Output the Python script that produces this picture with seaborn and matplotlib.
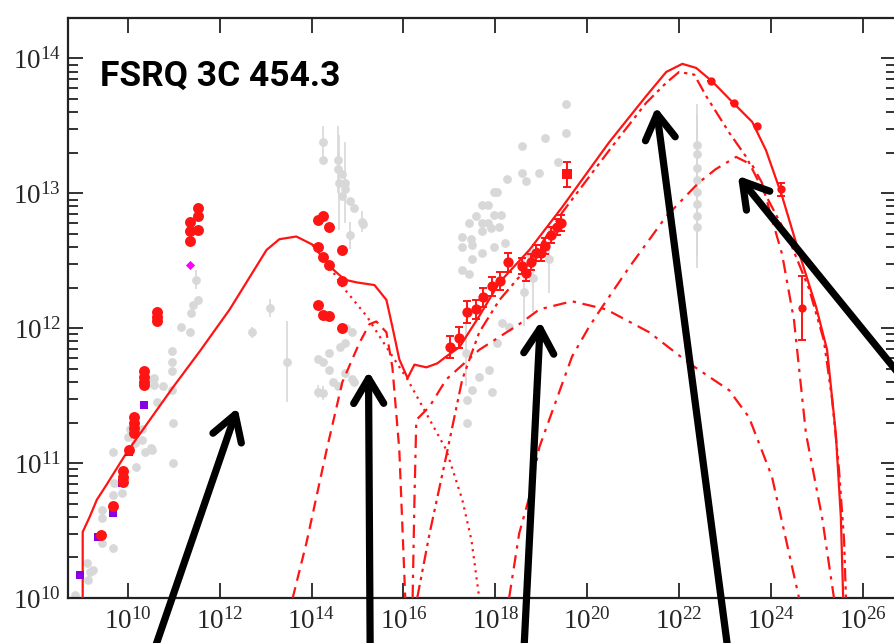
import numpy as np
import matplotlib
matplotlib.use("Agg")
import matplotlib.pyplot as plt
import seaborn as sns
from matplotlib.ticker import LogLocator, NullLocator, FixedLocator, LogFormatterSciNotation, NullFormatter

# ------------------------------------------------------------------
# Model components: log10(nu / Hz) and log10(nu F_nu)
# ------------------------------------------------------------------
total_lx = [9.02, 9.02, 9.17, 9.33, 9.54, 9.98, 10.48, 10.98, 11.57, 12.22, 13.02, 13.30, 13.67,
            14.02, 14.39, 14.72, 14.98, 15.37, 15.63, 15.76, 15.91, 16.09, 16.24, 16.50, 16.74,
            16.93, 17.22, 17.65, 18.09, 18.74, 19.46, 20.48, 21.28, 21.72, 22.07, 22.37, 22.72,
            23.15, 23.59, 23.89, 24.24, 24.61, 24.98, 25.22, 25.41, 25.52, 25.57]
total_ly = [10.00, 10.49, 10.60, 10.73, 10.84, 11.08, 11.32, 11.56, 11.83, 12.14, 12.58, 12.66, 12.68,
            12.62, 12.46, 12.36, 12.34, 12.32, 12.21, 12.01, 11.77, 11.63, 11.73, 11.71, 11.74,
            11.79, 11.86, 12.09, 12.34, 12.58, 12.90, 13.38, 13.72, 13.90, 13.96, 13.93, 13.83,
            13.68, 13.53, 13.32, 12.98, 12.56, 12.16, 11.84, 11.22, 10.60, 10.00]

sync_lx = [14.02, 14.39, 14.67, 15.20, 15.63, 16.09, 16.93, 17.28, 17.48, 17.65]
sync_ly = [12.62, 12.46, 12.31, 12.09, 11.86, 11.62, 11.10, 10.73, 10.43, 10.00]

disk_lx = [13.59, 13.89, 14.33, 14.67, 15.04, 15.26, 15.41, 15.63, 15.76, 15.91, 16.04]
disk_ly = [10.00, 10.41, 11.10, 11.60, 11.89, 12.03, 12.05, 11.97, 11.71, 11.10, 10.00]

ssc_lx = [16.20, 16.24, 16.28, 16.57, 16.93, 17.65, 18.52, 18.96, 19.67, 20.41, 21.35, 22.22,
          23.09, 23.52, 24.02, 24.61]
ssc_ly = [10.00, 10.73, 11.32, 11.42, 11.62, 11.84, 12.03, 12.14, 12.20, 12.14, 11.97, 11.74,
          11.54, 11.34, 10.90, 10.00]

blr_lx = [16.30, 16.57, 16.93, 17.28, 17.65, 18.09, 18.52, 19.46, 20.48, 21.28, 21.72, 22.00,
          22.33, 22.59, 23.09, 23.46, 23.74, 24.39, 24.83, 25.15, 25.33, 25.48, 25.59, 25.63]
blr_ly = [10.00, 10.48, 11.05, 11.62, 11.97, 12.21, 12.38, 12.86, 13.32, 13.67, 13.82, 13.90,
          13.88, 13.72, 13.45, 13.27, 13.08, 12.66, 12.29, 11.91, 11.47, 10.95, 10.43, 10.00]

ecd_lx = [18.30, 18.52, 18.74, 18.96, 19.33, 19.67, 20.04, 20.33, 20.91, 21.72, 22.43, 22.80,
          23.24, 23.59, 23.80, 24.02, 24.24, 24.50, 24.76, 25.11, 25.37]
ecd_ly = [10.00, 10.48, 10.75, 11.12, 11.47, 11.79, 12.01, 12.16, 12.45, 12.83, 13.08, 13.18,
          13.27, 13.21, 13.08, 12.81, 12.55, 12.06, 11.22, 10.60, 10.00]

# ------------------------------------------------------------------
# Observations
# ------------------------------------------------------------------
radio_lx = [9.41, 9.67, 9.89, 9.89, 9.89, 10.02, 10.13, 10.13, 10.13, 10.13, 10.35, 10.35, 10.35,
            10.35, 10.63, 10.63, 10.63, 11.35, 11.35, 11.35, 11.52, 11.52, 11.52]
radio_ly = [10.47, 10.68, 10.94, 10.90, 10.86, 11.10, 11.34, 11.30, 11.26, 11.22, 11.68, 11.64, 11.60,
            11.58, 12.12, 12.08, 12.05, 12.79, 12.72, 12.65, 12.89, 12.83, 12.73]

opt_lx = [14.13, 14.26, 14.37, 14.13, 14.26, 14.37, 14.67, 14.67, 14.13, 14.26, 14.39, 14.67]
opt_ly = [12.80, 12.83, 12.75, 12.60, 12.53, 12.47, 12.58, 12.35, 12.17, 12.10, 12.09, 12.00]

xray_lx = [17.02, 17.20, 17.39, 17.57, 17.74, 17.93, 18.11, 18.28, 18.59, 18.67, 18.78, 18.89,
           19.00, 19.09, 19.22, 19.35, 19.43]
xray_ly = [11.86, 11.93, 12.12, 12.14, 12.23, 12.31, 12.35, 12.49, 12.46, 12.41, 12.49, 12.56,
           12.56, 12.61, 12.69, 12.75, 12.78]
xray_err = [0.08, 0.08, 0.08, 0.07, 0.07, 0.07, 0.07, 0.07, 0.06, 0.06, 0.06, 0.06,
            0.06, 0.06, 0.06, 0.06, 0.06]

hard_lx = [19.57]
hard_ly = [13.14]
hard_err = [0.09]

gam_lx = [22.70, 23.20, 23.70, 24.22, 24.67]
gam_ly = [13.83, 13.67, 13.50, 13.03, 12.15]
gam_err = [0.0, 0.0, 0.0, 0.05, 0.24]

arch_lx = [8.85, 9.11, 9.17, 9.24, 9.13, 9.43, 9.43, 9.43, 9.67, 9.67, 9.70, 9.67, 9.87, 10.00,
           10.04, 10.17, 10.15, 10.30, 10.30, 10.50, 10.57, 10.57, 10.63, 10.76, 10.96, 10.98,
           10.98, 10.96, 10.96, 10.96, 11.17, 11.35, 11.37, 11.41, 11.54, 11.48, 10.54, 10.33,
           10.37, 10.52,
           12.70, 13.09, 13.46,
           14.26, 14.26, 14.57, 14.57, 14.67, 14.59, 14.72, 14.72, 14.67, 14.83, 14.93, 15.09,
           15.11, 14.83,
           14.76, 14.87, 14.61, 14.72, 14.39, 14.13, 14.24, 14.37, 14.46, 14.57, 14.72, 14.87,
           14.93, 14.13, 14.24,
           19.54, 19.54, 19.09, 18.57, 18.26, 18.57, 18.96, 18.67, 19.37, 17.98, 18.04, 17.72,
           17.83, 17.59, 17.43, 17.70, 17.83, 17.98, 18.13, 17.28, 17.48, 17.72, 17.91, 18.09,
           17.28, 17.50, 17.72, 17.98, 18.20, 17.50, 17.28, 17.43, 18.74,
           18.15, 18.30, 18.04, 17.87, 17.65, 17.50, 17.39, 17.93, 17.39, 17.37, 18.63, 18.83,
           19.17,
           22.39, 22.39, 22.39, 22.39, 22.39, 22.39, 22.39, 22.39]
arch_ly = [10.02, 10.26, 10.19, 10.21, 10.13, 10.65, 10.59, 10.41, 10.37, 10.76, 10.85, 11.08, 10.78, 11.19,
           11.25, 10.97, 11.15, 11.17, 11.25, 11.11, 11.63, 11.58, 11.45, 11.57, 11.54, 11.30,
           11.00, 11.68, 11.75, 11.83, 12.01, 11.97, 12.11, 12.17, 12.21, 12.36, 11.62, 11.60,
           11.08, 11.10,
           11.97, 12.15, 11.75,
           13.38, 13.25, 13.25, 13.18, 13.14, 13.08, 13.08, 13.03, 12.98, 12.94, 12.89, 12.79,
           12.77, 12.69,
           12.00, 11.97, 11.86, 11.89, 11.82, 11.77, 11.75, 11.69, 11.60, 11.57, 11.67, 11.62,
           11.60, 11.53, 11.52,
           13.66, 13.45, 13.41, 13.35, 13.11, 13.15, 13.15, 13.09, 13.23, 13.01, 13.01, 12.91,
           12.91, 12.83, 12.78, 12.78, 12.78, 12.84, 12.84, 12.68, 12.66, 12.72, 12.74, 12.75,
           12.60, 12.62, 12.56, 12.60, 12.63, 12.51, 12.43, 12.40, 12.55,
           12.04, 12.01, 11.89, 11.69, 11.64, 11.54, 11.47, 11.53, 11.30, 11.82, 12.27, 12.37,
           12.51,
           13.36, 13.29, 13.19, 13.10, 13.01, 12.92, 12.83, 12.75]
arch_err = [0.0] * 35 + [0.07, 0.0, 0.0, 0.0, 0.0] + \
           [0.04, 0.07, 0.30] + \
           [0.12, 0.0, 0.25, 0.0, 0.0, 0.35, 0.30, 0.0, 0.0, 0.0, 0.0, 0.08, 0.0, 0.10] + \
           [0.0] * 13 + [0.05, 0.05] + \
           [0.0] * 33 + \
           [0.0] * 8 + [0.0, 0.25, 0.25, 0.25, 0.25] + \
           [0.30] * 8

uv_lx = [8.96, 9.35, 9.67, 9.87, 10.02, 10.35]
uv_ly = [10.17, 10.45, 10.63, 10.85, 11.08, 11.43]

ir_lx = [11.35, 11.35]
ir_ly = [12.47, 12.71]

# Annotation arrows: (tip, tail) in log10 coordinates
arrow_tips = [(12.39, 11.41), (15.24, 11.68), (18.98, 12.05), (21.50, 13.64), (23.28, 13.13)]
arrow_tails = [(10.35, 9.39), (15.28, 9.39), (18.59, 9.39), (23.15, 9.39), (27.43, 11.39)]

# ------------------------------------------------------------------
sns.set_style("ticks")
plt.rcParams["font.family"] = ["Liberation Serif", "DejaVu Serif"]
plt.rcParams["mathtext.fontset"] = "stix"

RED = "#ff1414"
GREY = "#d8d8d8"


def p(v):
    return 10 ** np.asarray(v, dtype=float)


fig = plt.figure(figsize=(8.94, 6.43), dpi=100)
ax = fig.add_axes([68 / 894, 45 / 643, 828 / 894, 580 / 643])
ax.set_xscale("log")
ax.set_yscale("log")

# archival data (grey)
ae = np.asarray(arch_err)
ay = p(arch_ly)
m = ae > 0
ax.errorbar(p(arch_lx)[m], ay[m], yerr=[ay[m] * (1 - 10 ** -ae[m]), ay[m] * (10 ** ae[m] - 1)],
            fmt="none", ecolor=GREY, elinewidth=1.2, capsize=0, zorder=1)
sns.scatterplot(x=p(arch_lx), y=ay, ax=ax, color=GREY, s=40, linewidth=0, zorder=2)

# model curves
styles = [
    (total_lx, total_ly, "-"),
    (sync_lx, sync_ly, (0, (1, 2.2))),
    (disk_lx, disk_ly, (0, (5, 3))),
    (ssc_lx, ssc_ly, (0, (6, 3, 1.5, 3))),
    (blr_lx, blr_ly, (0, (6, 2.2, 1.5, 2.2, 1.5, 2.2))),
    (ecd_lx, ecd_ly, (0, (6, 3, 1.5, 3))),
]
for lx, ly, ls in styles:
    sns.lineplot(x=p(lx), y=p(ly), ax=ax, color=RED, linewidth=1.6, linestyle=ls,
                 estimator=None, sort=False, zorder=3)

# simultaneous data (red) and UV/IR points
sns.scatterplot(x=p(uv_lx), y=p(uv_ly), ax=ax, color="#8a00e6", marker="s", s=36, linewidth=0, zorder=4)
sns.scatterplot(x=p(ir_lx), y=p(ir_ly), ax=ax, color="#ff00ff", marker="D", s=22, linewidth=0, zorder=4)
sns.scatterplot(x=p(radio_lx), y=p(radio_ly), ax=ax, color=RED, s=62, linewidth=0, zorder=5)
sns.scatterplot(x=p(opt_lx), y=p(opt_ly), ax=ax, color=RED, s=62, linewidth=0, zorder=5)

for lx, ly, le, mk, sz in [(xray_lx, xray_ly, xray_err, "o", 55), (hard_lx, hard_ly, hard_err, "s", 55),
                           (gam_lx, gam_ly, gam_err, "o", 36)]:
    yy = p(ly)
    ee = np.asarray(le)
    ax.errorbar(p(lx), yy, yerr=[yy * (1 - 10 ** -ee), yy * (10 ** ee - 1)], fmt="none",
                ecolor=RED, elinewidth=1.4, capsize=3, capthick=1.4, zorder=5)
    sns.scatterplot(x=p(lx), y=yy, ax=ax, color=RED, marker=mk, s=sz, linewidth=0, zorder=6)

# axes
ax.set_xlim(10 ** 8.70, 10 ** 26.72)
ax.set_ylim(1e10, 10 ** 14.30)
ax.xaxis.set_major_locator(FixedLocator(p(np.arange(10, 27, 2))))
ax.xaxis.set_minor_locator(NullLocator())
ax.xaxis.set_major_formatter(LogFormatterSciNotation())
ax.yaxis.set_major_locator(LogLocator(base=10, numticks=20))
ax.yaxis.set_minor_locator(LogLocator(base=10, subs=np.arange(2, 10), numticks=20))
ax.yaxis.set_minor_formatter(NullFormatter())
ax.tick_params(which="both", direction="in", top=True, right=True, color="#222222", width=1.3,
               labelsize=19.5)
ax.tick_params(which="major", length=11)
ax.tick_params(which="minor", length=7)
ax.tick_params(axis="y", pad=5)
ax.tick_params(axis="x", pad=7)
for s in ax.spines.values():
    s.set_linewidth(1.6)
    s.set_color("#222222")
ax.set_xlabel("")
ax.set_ylabel("")

ax.text(0.0386, 0.90, "FSRQ 3C 454.3", transform=ax.transAxes, fontsize=25.5, fontweight="bold",
        family=["Roboto", "DejaVu Sans"], va="center", ha="left", color="black", zorder=8)

for (tx, ty), (sx, sy) in zip(arrow_tips, arrow_tails):
    ax.annotate("", xy=(10 ** tx, 10 ** ty), xytext=(10 ** sx, 10 ** sy), xycoords="data",
                textcoords="data", annotation_clip=False,
                arrowprops=dict(arrowstyle="->,head_length=1.0,head_width=0.6", lw=5.2,
                                color="black", mutation_scale=18, shrinkA=0, shrinkB=0,
                                capstyle="round", joinstyle="round"),
                zorder=9)

fig.savefig("out.png", dpi=100)
